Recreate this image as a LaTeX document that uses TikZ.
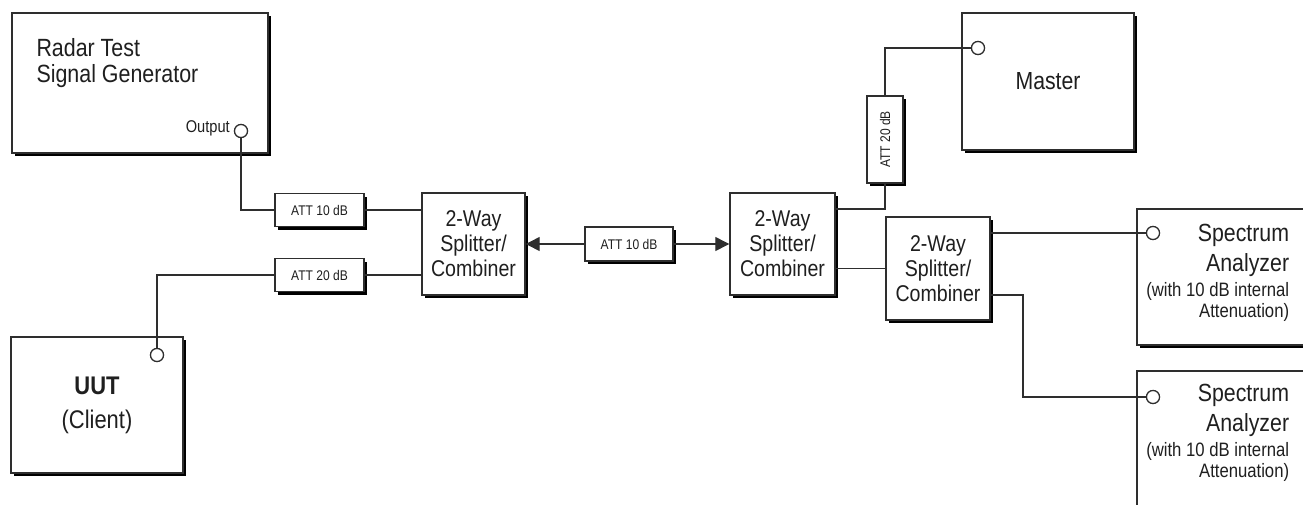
\documentclass[tikz,border=0pt]{standalone}
\usepackage{fontspec}
\setmainfont[FakeStretch=0.86]{Liberation Sans}
\usetikzlibrary{arrows.meta, calc, positioning, shadows}
\definecolor{ink}{gray}{0.18}
\definecolor{lettering}{gray}{0.12}
\tikzset{%
  box/.style={draw=ink, line width=1.4pt, fill=white, inner sep=0pt,
              drop shadow={shadow xshift=3pt, shadow yshift=-3pt, fill=black, opacity=1}},
  att/.style={box, minimum width=89pt, minimum height=33pt, font=\fontsize{14}{16}\selectfont},
  splitter/.style={box, align=center, font=\fontsize{22.8}{25}\selectfont},
  port/.style={circle, draw=ink, line width=1.2pt, fill=white, minimum size=13pt, inner sep=0pt},
  wire/.style={draw=ink, line width=1.3pt},
  tip/.style={-{Triangle[length=14pt, width=14pt]}},
}

\begin{document}
\begin{tikzpicture}[x=1pt, y=-1pt, text=lettering]
    \useasboundingbox (0,0) rectangle (1303,504);
    \clip (0,0) rectangle (1303,504);

    %instruments
    \node[box, minimum width=256pt, minimum height=140pt] (RG) at (140,83) {};
    \node[anchor=north west, align=left, inner sep=0pt, font=\fontsize{24.9}{26}\selectfont]
        (RGtxt) at ([shift={(25,26)}]RG.north west) {Radar Test\\Signal Generator};
    \node[port] (RGp) at (241,131) {};
    \node[anchor=east, inner sep=0pt, font=\fontsize{17}{19}\selectfont]
        (RGout) at ([shift={(-4,-3)}]RGp.west) {Output};

    \node[box, minimum width=172pt, minimum height=136pt, align=center,
          font=\fontsize{25.5}{34}\selectfont] (UUT) at (97,405) {\textbf{UUT}\\(Client)};
    \node[port] (UUTp) at (157,355) {};

    \node[box, minimum width=172pt, minimum height=137pt, font=\fontsize{24.7}{28}\selectfont]
        (M) at (1048,81.5) {Master};
    \node[port] (Mp) at (978,48) {};

    \node[box, minimum width=203pt, minimum height=136pt] (SA1) at (1238.5,277) {};
    \node[port] (SA1p) at (1153,233) {};
    \node[box, minimum width=203pt, minimum height=138pt] (SA2) at (1238.5,440) {};
    \node[port] (SA2p) at (1153,397) {};

    \node[anchor=north east, align=right, inner sep=0pt, font=\fontsize{24.8}{30}\selectfont]
        (SA1t) at ([shift={(153,16)}]SA1.north west) {Spectrum\\Analyzer};
    \node[anchor=north east, align=right, inner sep=0pt, font=\fontsize{19.4}{21}\selectfont]
        (SA1n) at ([shift={(153,74)}]SA1.north west) {(with 10 dB internal\\Attenuation)};
    \node[anchor=north east, align=right, inner sep=0pt, font=\fontsize{24.8}{30}\selectfont]
        (SA2t) at ([shift={(153,14)}]SA2.north west) {Spectrum\\Analyzer};
    \node[anchor=north east, align=right, inner sep=0pt, font=\fontsize{19.4}{21}\selectfont]
        (SA2n) at ([shift={(153,72)}]SA2.north west) {(with 10 dB internal\\Attenuation)};

    %splitters and attenuators
    \node[splitter, minimum width=103pt, minimum height=102pt] (S1) at (473.5,244) {2-Way\\Splitter/\\Combiner};
    \node[splitter, minimum width=105pt, minimum height=102pt] (S2) at (782.5,244) {2-Way\\Splitter/\\Combiner};
    \node[splitter, minimum width=104pt, minimum height=103pt] (S3) at (938,268.5) {2-Way\\Splitter/\\Combiner};

    \node[att] (A1) at (319.5,210) {ATT 10 dB};
    \node[att] (A2) at (319.5,275) {ATT 20 dB};
    \node[att, minimum width=88pt, minimum height=34pt] (A3) at (629,244) {ATT 10 dB};
    \node[att, rotate=90, minimum width=87pt, minimum height=36pt] (A4) at (885,139.5) {ATT 20 dB};

    \coordinate (K) at (1023,340);

    %cables
    \draw[wire] (RGp.south) |- (A1.west);
    \draw[wire] (A1.east) -- (A1.east -| S1.west);
    \draw[wire] (UUTp.north) |- (A2.west);
    \draw[wire] (A2.east) -- (A2.east -| S1.west);
    \draw[wire, tip] (A3.west) -- (S1.east);
    \draw[wire, tip] (A3.east) -- (S2.west);
    \draw[wire] ([yshift=35pt]S2.east) -| (A4.west);
    \draw[wire] (A4.east) |- (Mp.west);
    \draw[wire] (S2.east |- S3.west) -- (S3.west);
    \draw[wire] (SA1p.west -| S3.east) -- (SA1p.west);
    \draw[wire] ([yshift=-26.5pt]S3.east) -| (K) |- (SA2p.west);

    %ports on top
    \foreach \p in {RGp, UUTp, Mp, SA1p, SA2p}
        \node[port] at (\p) {};
\end{tikzpicture}
\end{document}
